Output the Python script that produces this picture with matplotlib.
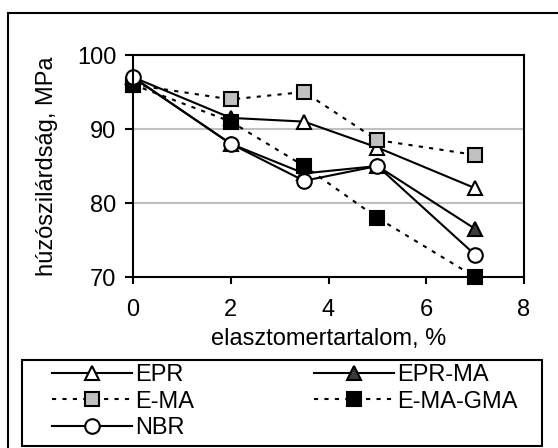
import matplotlib
matplotlib.use("Agg")
import matplotlib.pyplot as plt
from matplotlib.patches import Rectangle

plt.rcParams["font.family"] = ["Liberation Sans", "DejaVu Sans"]

# data
content = [0, 2, 3.5, 5, 7]
epr = [97, 91.5, 91, 87.5, 82]
epr_ma = [97, 88, 84, 85, 76.5]
e_ma = [96, 94, 95, 88.5, 86.5]
e_ma_gma = [96, 91, 85, 78, 70]
nbr = [97, 88, 83, 85, 73]

x_ticks = [0, 2, 4, 6, 8]
y_ticks = [70, 80, 90, 100]

W, H = 558, 448
FS = 17
fig = plt.figure(figsize=(W / 100, H / 100), dpi=100)

# outer frame (only left and top edges fall inside the picture)
fig.patches.append(Rectangle((8 / W, -0.1), 1.2, 1 - 13 / H + 0.1, transform=fig.transFigure,
                             fill=False, edgecolor="black", linewidth=1.5))
# legend box
fig.patches.append(Rectangle((22 / W, 1 - 446 / H), (542 - 22) / W, (446 - 360) / H,
                             transform=fig.transFigure, fill=False,
                             edgecolor="black", linewidth=1.5))

ax = fig.add_axes([133 / W, 1 - 277 / H, (524 - 133) / W, (277 - 55) / H])

dash = (0, (2, 3))
series = [
    ("EPR", epr, "-", "^", "white", 10),
    ("EPR-MA", epr_ma, "-", "^", "#3a3a3a", 10),
    ("E-MA", e_ma, dash, "s", "#c0c0c0", 9.5),
    ("E-MA-GMA", e_ma_gma, dash, "s", "black", 9.5),
    ("NBR", nbr, "-", "o", "white", 10.5),
]
handles = {}
for name, vals, ls, mk, fc, ms in series:
    h, = ax.plot(content, vals, linestyle=ls, color="black", linewidth=1.5,
                 marker=mk, markerfacecolor=fc, markeredgecolor="black",
                 markeredgewidth=1.5, markersize=ms, clip_on=False, label=name)
    handles[name] = h

ax.set_xlim(0, 8)
ax.set_ylim(70, 100)
ax.set_xticks(x_ticks)
ax.set_yticks(y_ticks)
ax.yaxis.grid(True, color="#c0c0c0", linewidth=1.5)
ax.set_axisbelow(True)
for s in ax.spines.values():
    s.set_linewidth(1.5)
ax.tick_params(axis="both", direction="out", width=1.5, labelsize=FS)
ax.tick_params(axis="x", length=5, pad=11)
ax.tick_params(axis="y", length=6, pad=6)
ax.set_ylabel("húzószilárdság, MPa", fontsize=FS, labelpad=14)
ax.set_xlabel("elasztomertartalom, %", fontsize=FS, labelpad=5)

order = ["EPR", "E-MA", "NBR", "EPR-MA", "E-MA-GMA"]
leg = fig.legend([handles[n] for n in order], order, loc="upper left", ncol=2,
                 bbox_to_anchor=(52 / W, 1 - 364 / H), frameon=False,
                 fontsize=FS, handlelength=3.4, handletextpad=0.1,
                 borderaxespad=0, borderpad=0, labelspacing=0.2,
                 columnspacing=5.1)

fig.savefig("out.png", dpi=100)
